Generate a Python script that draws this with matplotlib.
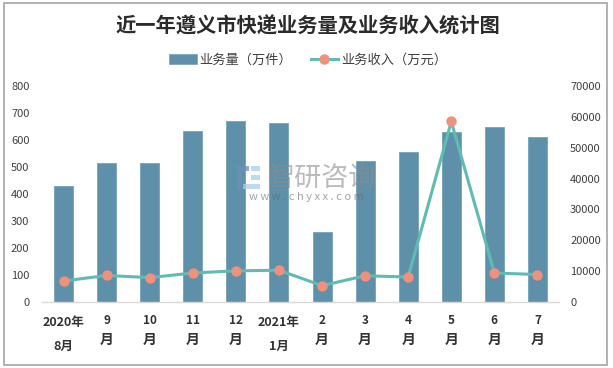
import matplotlib
matplotlib.use('Agg')
import matplotlib.pyplot as plt
from matplotlib.patches import Rectangle, Patch
from matplotlib.lines import Line2D

plt.rcParams['font.family'] = ['Noto Sans CJK SC', 'DejaVu Sans']

W, H = 613, 368
categories = ['2020年\n8月', '9\n月', '10\n月', '11\n月', '12\n月', '2021年\n1月',
              '2\n月', '3\n月', '4\n月', '5\n月', '6\n月', '7\n月']
volume = [430, 515, 515, 632, 672, 662, 258, 522, 555, 628, 648, 610]
revenue = [6800, 8600, 7900, 9400, 10100, 10300, 5300, 8500, 8100, 58500, 9400, 8900]
left_ticks = [0, 100, 200, 300, 400, 500, 600, 700, 800]
right_ticks = [0, 10000, 20000, 30000, 40000, 50000, 60000, 70000]

BAR = '#5e90a9'
LINE = '#5fbcb5'
DOT = '#ef917c'
TXT = '#404040'

fig = plt.figure(figsize=(W / 100, H / 100), dpi=100, facecolor='white')
fig.add_artist(Rectangle((3.5 / W, 1 - 364.5 / H), 603 / W, 362 / H, transform=fig.transFigure,
                         fill=False, edgecolor='#a6a6a6', linewidth=1.2))

ax = fig.add_axes([42 / W, 1 - 302 / H, 517 / W, 216 / H])
x = list(range(len(categories)))
ax.bar(x, volume, width=0.44, color=BAR, edgecolor='#74a3ba', linewidth=0.6, zorder=2)
ax.set_xlim(-0.5, 11.5)
ax.set_ylim(0, 800)
ax.set_yticks(left_ticks)
ax.tick_params(axis='y', length=0, labelsize=8, labelcolor=TXT, pad=9)
ax.set_xticks(x)
ax.set_xticklabels([])
for s in ['top', 'left', 'right']:
    ax.spines[s].set_visible(False)
ax.spines['bottom'].set_color('#d9d9d9')
ax.spines['bottom'].set_linewidth(1)
ax.tick_params(axis='x', length=0)

# Category labels: the two year labels sit slightly differently from the plain months
for i, c in enumerate(categories):
    two_part = '年' in c
    top, bottom = c.split('\n')
    ax.annotate(top, (i, 0), xytext=(0, -(15 if two_part else 13)), textcoords='offset points',
                xycoords=('data', 'axes fraction'), ha='center', va='center',
                fontsize=9 if two_part else 8.5, fontweight='bold', color='#333333')
    ax.annotate(bottom, (i, 0), xytext=(0, -(32 if two_part else 27)), textcoords='offset points',
                xycoords=('data', 'axes fraction'), ha='center', va='center',
                fontsize=9 if two_part else 10, fontweight='bold', color='#333333')

ax2 = ax.twinx()
ax2.plot(x, revenue, color=LINE, linewidth=2.2, marker='o', markersize=6.5,
         markerfacecolor=DOT, markeredgecolor=DOT, zorder=3)
ax2.set_ylim(0, 70000)
ax2.set_yticks(right_ticks)
ax2.tick_params(axis='y', length=0, labelsize=8, labelcolor=TXT, pad=8)
for s in ['top', 'left', 'right', 'bottom']:
    ax2.spines[s].set_visible(False)

fig.text(308 / W, 1 - 26 / H, '近一年遵义市快递业务量及业务收入统计图', ha='center', va='center',
         fontsize=14.6, fontweight='bold', color='#2b2b2b')

handles = [Patch(facecolor=BAR, edgecolor='#74a3ba', linewidth=0.5, label='业务量（万件）'),
           Line2D([0], [0], color=LINE, linewidth=2.2, marker='o', markersize=6.5,
                  markerfacecolor=DOT, markeredgecolor=DOT, label='业务收入（万元）')]
fig.legend(handles=handles, loc='center', bbox_to_anchor=(308 / W, 1 - 60.5 / H), ncol=2,
           frameon=False, fontsize=9.5, labelcolor=TXT, handlelength=2.1, handleheight=0.8,
           columnspacing=1.4, handletextpad=0.2)

# Watermark
fig.text(322 / W, 1 - 178 / H, '智研咨询', ha='center', va='center', fontsize=19.5,
         color='#8c8c8c', alpha=0.6, zorder=5)
fig.text(306 / W, 1 - 197 / H, 'w w w . c h y x x . c o m', ha='center', va='center', fontsize=8,
         color='#666666', alpha=0.6, zorder=5)
for (px, py, pw, ph, col) in [(237, 166, 12, 5, '#6f8fb8'), (237, 171, 5, 19, '#6f8fb8'),
                              (251, 166, 9, 5, '#a9cdec'), (251, 175, 9, 5, '#a9cdec'),
                              (243, 184, 17, 5, '#a9cdec')]:
    fig.add_artist(Rectangle((px / W, 1 - (py + ph) / H), pw / W, ph / H, transform=fig.transFigure,
                             facecolor=col, edgecolor='none', alpha=0.75, zorder=5))

fig.savefig('out.png', dpi=100)
